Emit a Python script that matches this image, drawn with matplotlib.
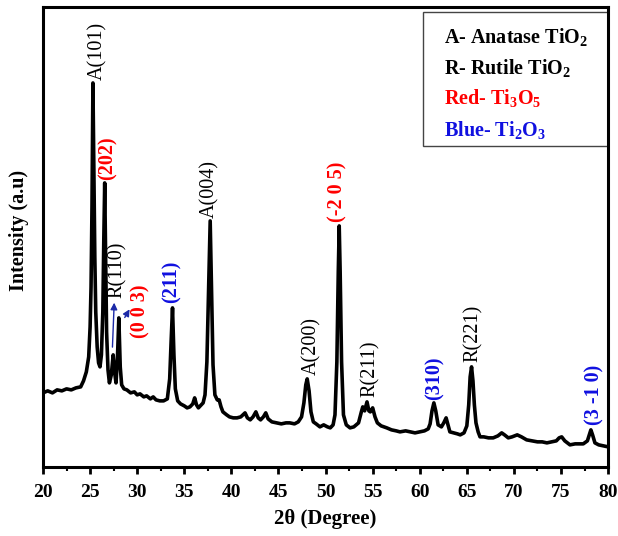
import numpy as np
import matplotlib
matplotlib.use("Agg")
import matplotlib.pyplot as plt
from matplotlib.patches import Rectangle
from matplotlib.ticker import MultipleLocator

plt.rcParams['font.family'] = ['Liberation Serif', 'DejaVu Serif']
plt.rcParams['mathtext.fontset'] = 'custom'
plt.rcParams['mathtext.rm'] = 'Liberation Serif:bold'
plt.rcParams['mathtext.it'] = 'Liberation Serif:italic:bold'
plt.rcParams['mathtext.default'] = 'rm'

# XRD pattern (2theta in degree, intensity in a.u.)
two_theta = [20.0, 20.5, 21.0, 21.5, 22.0, 22.5, 23.0, 23.5, 24.0, 24.3, 24.6, 24.85,
             25.0, 25.1, 25.2, 25.3, 25.4, 25.5, 25.6, 25.75, 25.9, 26.05, 26.2, 26.35,
             26.45, 26.55, 26.65, 26.75, 26.9, 27.05, 27.25, 27.45, 27.6, 27.75, 27.9,
             28.05, 28.2, 28.35, 28.6, 28.9, 29.3, 29.7, 30.0, 30.3, 30.7, 31.0, 31.4,
             31.7, 32.0, 32.4, 32.8, 33.2, 33.45, 33.6, 33.75, 33.9, 34.05, 34.3, 34.6,
             35.0, 35.3, 35.6, 35.9, 36.1, 36.3, 36.5, 36.8, 37.0, 37.2, 37.4, 37.55,
             37.75, 37.9, 38.05, 38.25, 38.5, 38.7, 38.9, 39.1, 39.5, 39.8, 40.2, 40.6,
             41.0, 41.45, 41.7, 42.0, 42.3, 42.6, 42.85, 43.1, 43.4, 43.65, 43.9, 44.3,
             44.8, 45.3, 45.8, 46.2, 46.7, 47.1, 47.45, 47.7, 47.9, 48.05, 48.25, 48.45,
             48.7, 49.0, 49.4, 49.8, 50.2, 50.5, 50.8, 51.0, 51.2, 51.35, 51.45, 51.55,
             51.7, 51.9, 52.2, 52.6, 53.0, 53.5, 53.8, 53.95, 54.15, 54.4, 54.6, 54.75,
             55.0, 55.25, 55.5, 55.9, 56.5, 57.0, 57.5, 57.9, 58.5, 59.0, 59.5, 60.0,
             60.5, 60.9, 61.1, 61.3, 61.5, 61.7, 61.95, 62.3, 62.55, 62.8, 63.0, 63.2,
             63.6, 64.0, 64.3, 64.7, 65.0, 65.2, 65.35, 65.5, 65.65, 65.8, 65.97, 66.2,
             66.4, 66.8, 67.3, 67.8, 68.3, 68.7, 69.0, 69.4, 69.8, 70.35, 70.8, 71.35,
             71.9, 72.5, 73.0, 73.5, 74.0, 74.5, 74.8, 75.07, 75.4, 75.95, 76.5, 77.0,
             77.36, 77.8, 78.0, 78.17, 78.35, 78.6, 79.0, 79.5, 80.0]
intensity = [74, 76, 74, 77, 76, 78, 77, 79, 80, 86, 95, 110,
             140, 180, 260, 384, 300, 210, 155, 120, 104, 100, 112, 155,
             225, 284, 205, 135, 97, 84, 92, 112, 95, 84, 108,
             149, 100, 82, 78, 77, 74, 75, 72, 73, 70, 71, 68,
             70, 67, 66, 66, 68, 88, 125, 159, 112, 78, 66, 63,
             61, 59, 60, 63, 69, 62, 59, 62, 64, 72, 105, 165,
             246, 172, 102, 72, 67, 67, 60, 55, 52, 50, 49, 49,
             50, 54, 49, 47, 50, 55, 49, 47, 50, 54, 48, 45,
             44, 43, 44, 44, 43, 45, 50, 64, 82, 88, 76, 55,
             45, 43, 40, 42, 40, 39, 42, 52, 105, 195, 241, 195,
             105, 52, 42, 39, 40, 44, 55, 60, 56, 65, 56, 55,
             59, 50, 44, 41, 39, 37, 36, 35, 36, 35, 34, 35,
             36, 38, 43, 56, 64, 56, 42, 40, 44, 49, 42, 35,
             34, 33, 32, 34, 41, 62, 90, 100, 86, 62, 44, 35,
             30, 30, 29, 29, 31, 34, 32, 29, 30, 32, 30, 27,
             26, 25, 25, 24, 25, 26, 29, 30, 26, 22, 23, 23,
             23, 26, 32, 37, 32, 24, 22, 21, 20]

# peak labels: text, 2theta, label base, colour
peak_text = ["A(101)", "(202)", "R(110)", "(0 0 3)", "(211)", "A(004)",
             "A(200)", "(-2 0 5)", "R(211)", "(310)", "R(221)", "(3 -1 0)"]
peak_x = [25.75, 26.9, 27.93, 30.3, 33.7, 37.73, 48.56, 51.3, 54.7, 61.6, 65.65, 78.6]
peak_y = [387, 287, 169, 129, 164, 249, 92, 245, 70, 67, 105, 42]
peak_col = ["black", "red", "black", "red", "blue", "black",
            "black", "red", "black", "blue", "black", "blue"]

legend_lines = ["A- Anatase TiO$_2$", "R- Rutile TiO$_2$",
                "Red- Ti$_3$O$_5$", "Blue- Ti$_2$O$_3$"]
legend_cols = ["black", "black", "red", "blue"]

fig = plt.figure(figsize=(6.18, 5.36), dpi=100)
ax = fig.add_axes([0.0696, 0.129, 0.9144, 0.858])

ax.plot(two_theta, intensity, color="black", lw=2.6, solid_joinstyle="round")

for t, x, y, c in zip(peak_text, peak_x, peak_y, peak_col):
    ax.text(x, y, t, rotation=90, ha="center", va="bottom", fontsize=14.5,
            color=c if c != "blue" else "#1010e0",
            fontweight="normal" if c == "black" else "bold")

# arrows from the small peaks to R(110) and (0 0 3)
ax.annotate("", xy=(27.57, 167), xytext=(27.36, 117),
            arrowprops=dict(arrowstyle="-|>", color="#1c2aa8", lw=1.0, mutation_scale=10))
ax.annotate("", xy=(29.34, 160), xytext=(28.53, 147),
            arrowprops=dict(arrowstyle="-|>", color="#1c2aa8", lw=1.0, mutation_scale=10))

# legend box
ax.add_patch(Rectangle((0.673, 0.698), 0.327, 0.291, transform=ax.transAxes,
                       fill=False, edgecolor="#444444", lw=1.0))
for i, (s, c) in enumerate(zip(legend_lines, legend_cols)):
    ax.text(0.71, [0.935, 0.867, 0.802, 0.733][i], s, transform=ax.transAxes,
            ha="left", va="center", fontsize=14.5, fontweight="bold",
            color=c if c != "blue" else "#1010e0")

ax.set_xlim(20, 80)
ax.set_ylim(0, 460)
ax.xaxis.set_major_locator(MultipleLocator(5))
ax.xaxis.set_minor_locator(MultipleLocator(2.5))
ax.set_yticks([])
ax.tick_params(axis="x", which="major", direction="out", length=5, width=2,
               labelsize=14, pad=7)
ax.tick_params(axis="x", which="minor", direction="out", length=3, width=1.5)
for lab in ax.get_xticklabels():
    lab.set_fontweight("bold")
for sp in ax.spines.values():
    sp.set_linewidth(2.2)

ax.set_xlabel("2θ (Degree)", fontsize=15, fontweight="bold", labelpad=6)
ax.set_ylabel("Intensity (a.u)", fontsize=14.5, fontweight="bold")
ax.yaxis.set_label_coords(-0.024, 0.515)

fig.savefig("out.png", dpi=100)
